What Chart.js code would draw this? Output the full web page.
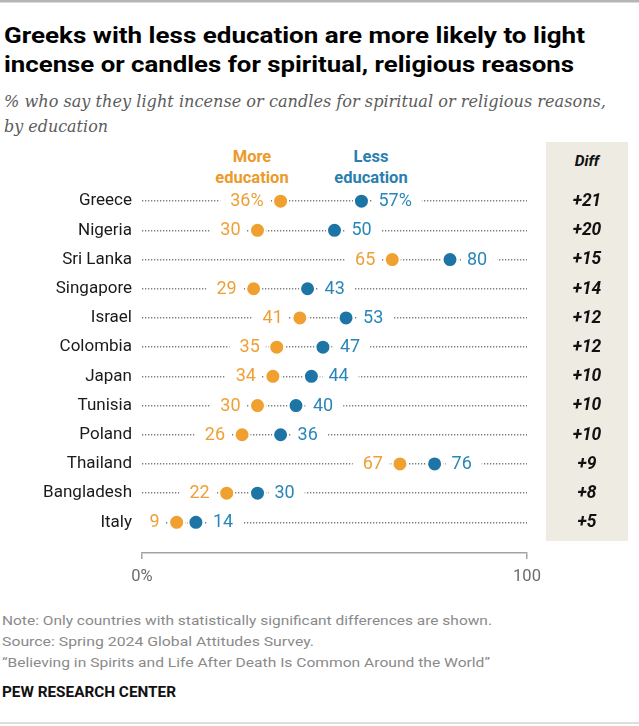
<!DOCTYPE html>
<html>
<head>
<meta charset="utf-8">
<script src="https://cdn.jsdelivr.net/npm/chart.js@4.4.1/dist/chart.umd.min.js"></script>
<style>
  html, body { margin:0; padding:0; background:#fff; }
  body { width:639px; height:726px; position:relative; overflow:hidden; }
  #bg { position:absolute; left:0; top:0; z-index:0; }
  #wrap { position:absolute; left:0; top:0; width:639px; height:726px; z-index:1; }
</style>
</head>
<body>
<svg id="bg" width="639" height="726" xmlns="http://www.w3.org/2000/svg">
  <rect x="0" y="0" width="639" height="2.5" fill="#b5b5b5"/>
  <rect x="0" y="722.5" width="639" height="1" fill="#bdbdbd"/>
  <rect x="546" y="142" width="82" height="399" fill="#EEEBE3"/>
  <g font-family="Roboto, 'Liberation Sans', sans-serif" font-weight="700" font-size="22.5" fill="#000">
    <text x="4" y="43" textLength="581" lengthAdjust="spacingAndGlyphs">Greeks with less education are more likely to light</text>
    <text x="4" y="72" textLength="570" lengthAdjust="spacingAndGlyphs">incense or candles for spiritual, religious reasons</text>
  </g>
  <g font-family="'DejaVu Serif', serif" font-style="italic" font-size="16" fill="#5c5c5c">
    <text x="4" y="107" textLength="602" lengthAdjust="spacingAndGlyphs">% who say they light incense or candles for spiritual or religious reasons,</text>
    <text x="4" y="132" textLength="104" lengthAdjust="spacingAndGlyphs">by education</text>
  </g>
  <g font-family="Roboto, sans-serif" font-weight="700" font-size="16.5" text-anchor="middle">
    <text x="252" y="162" fill="#EB9A2B">More</text>
    <text x="252" y="183" fill="#EB9A2B">education</text>
    <text x="371" y="162" fill="#2A7FB0">Less</text>
    <text x="371" y="183" fill="#2A7FB0">education</text>
  </g>
  <text x="587" y="166" font-family="Roboto, sans-serif" font-weight="700" font-style="italic" font-size="15.5" fill="#111" text-anchor="middle">Diff</text>
  <g font-family="Roboto, sans-serif" font-size="13.3" fill="#8a8a8a">
    <text x="2" y="625" textLength="490" lengthAdjust="spacingAndGlyphs">Note: Only countries with statistically significant differences are shown.</text>
    <text x="2" y="646" textLength="312" lengthAdjust="spacingAndGlyphs">Source: Spring 2024 Global Attitudes Survey.</text>
    <text x="2" y="667" textLength="488" lengthAdjust="spacingAndGlyphs">“Believing in Spirits and Life After Death Is Common Around the World”</text>
  </g>
  <text x="2" y="697" font-family="Roboto, sans-serif" font-weight="700" font-size="15" fill="#111" textLength="174" lengthAdjust="spacingAndGlyphs">PEW RESEARCH CENTER</text>
</svg>
<div id="wrap"><canvas id="c" width="639" height="726"></canvas></div>
<script>
const countries = ['Greece','Nigeria','Sri Lanka','Singapore','Israel','Colombia','Japan','Tunisia','Poland','Thailand','Bangladesh','Italy'];
const moreEducation = [36,30,65,29,41,35,34,30,26,67,22,9];
const lessEducation = [57,50,80,43,53,47,44,40,36,76,30,14];
const diffs = ['+21','+20','+15','+14','+12','+12','+10','+10','+10','+9','+8','+5'];
const xTicks = [0,100];
const xTickLabels = ['0%','100'];

const ORANGE = '#EFA02F', BLUE = '#1C75A5';
const ORANGE_TXT = '#EE9F36', BLUE_TXT = '#2A86B8';

const labelPlugin = {
  id: 'valueLabels',
  beforeDatasetsDraw(chart) {
    const {ctx, scales: {x, y}} = chart;
    ctx.save();
    ctx.font = '18px Roboto, sans-serif';
    ctx.textBaseline = 'middle';
    countries.forEach((c, i) => {
      const py = y.getPixelForValue(i);
      const pm = x.getPixelForValue(moreEducation[i]);
      const pl = x.getPixelForValue(lessEducation[i]);
      const tm = moreEducation[i] + (i === 0 ? '%' : '');
      const tl = lessEducation[i] + (i === 0 ? '%' : '');
      const wm = ctx.measureText(tm).width;
      const wl = ctx.measureText(tl).width;
      const rm = pm - 17;
      const ll = pl + 17;
      ctx.fillStyle = '#fff';
      ctx.fillRect(rm - wm - 10, py - 6, wm + 16, 12);
      ctx.fillRect(ll - 6, py - 6, wl + 16, 12);
      ctx.fillStyle = ORANGE_TXT; ctx.textAlign = 'right';
      ctx.fillText(tm, rm, py + 0.5);
      ctx.fillStyle = BLUE_TXT; ctx.textAlign = 'left';
      ctx.fillText(tl, ll, py + 0.5);
    });
    ctx.restore();
  },
  afterDatasetsDraw(chart) {
    const {ctx, scales: {y}} = chart;
    ctx.save();
    ctx.font = 'italic 700 17.5px Roboto, sans-serif';
    ctx.textBaseline = 'middle';
    ctx.textAlign = 'center';
    ctx.fillStyle = '#111';
    diffs.forEach((d, i) => {
      ctx.fillText(d, 587, y.getPixelForValue(i) + 0.5);
    });
    ctx.restore();
  }
};

new Chart(document.getElementById('c'), {
  type: 'scatter',
  data: {
    datasets: [
      { label: 'More education', data: moreEducation.map((v, i) => ({x: v, y: i})),
        backgroundColor: ORANGE, borderColor: '#fff', borderWidth: 2, pointRadius: 7.5, pointHoverRadius: 7.5 },
      { label: 'Less education', data: lessEducation.map((v, i) => ({x: v, y: i})),
        backgroundColor: BLUE, borderColor: '#fff', borderWidth: 2, pointRadius: 7.5, pointHoverRadius: 7.5 }
    ]
  },
  options: {
    responsive: false,
    animation: false,
    events: [],
    layout: { padding: { top: 188, right: 112, left: 0, bottom: 0 } },
    plugins: { legend: { display: false }, tooltip: { enabled: false } },
    scales: {
      x: {
        type: 'linear', min: 0, max: 100, position: 'bottom',
        afterBuildTicks: s => { s.ticks = xTicks.map(v => ({value: v})); },
        afterFit: s => { s.height = 726 - 553; },
        grid: { display: true, drawOnChartArea: false, drawTicks: true, tickLength: 6, color: '#a3a3a3', lineWidth: 1.5 },
        border: { display: true, color: '#a3a3a3', width: 1.5 },
        ticks: { padding: 8, autoSkip: false, maxRotation: 0, color: '#6b6b6b',
          font: { family: 'Roboto', size: 16.5 },
          callback: v => xTickLabels[xTicks.indexOf(v)] }
      },
      y: {
        type: 'linear', reverse: true, min: -0.45, max: 12.05,
        afterBuildTicks: s => { s.ticks = countries.map((c, i) => ({value: i})); },
        afterFit: s => { s.width = 142; },
        grid: { display: true, drawTicks: false, color: '#7d7d7d', lineWidth: 1.4 },
        border: { display: false, dash: [1.3, 1.7] },
        ticks: { padding: 10, autoSkip: false, color: '#1a1a1a',
          font: { family: 'Roboto', size: 17 },
          callback: v => countries[v] }
      }
    }
  },
  plugins: [labelPlugin]
});
</script>
</body>
</html>
